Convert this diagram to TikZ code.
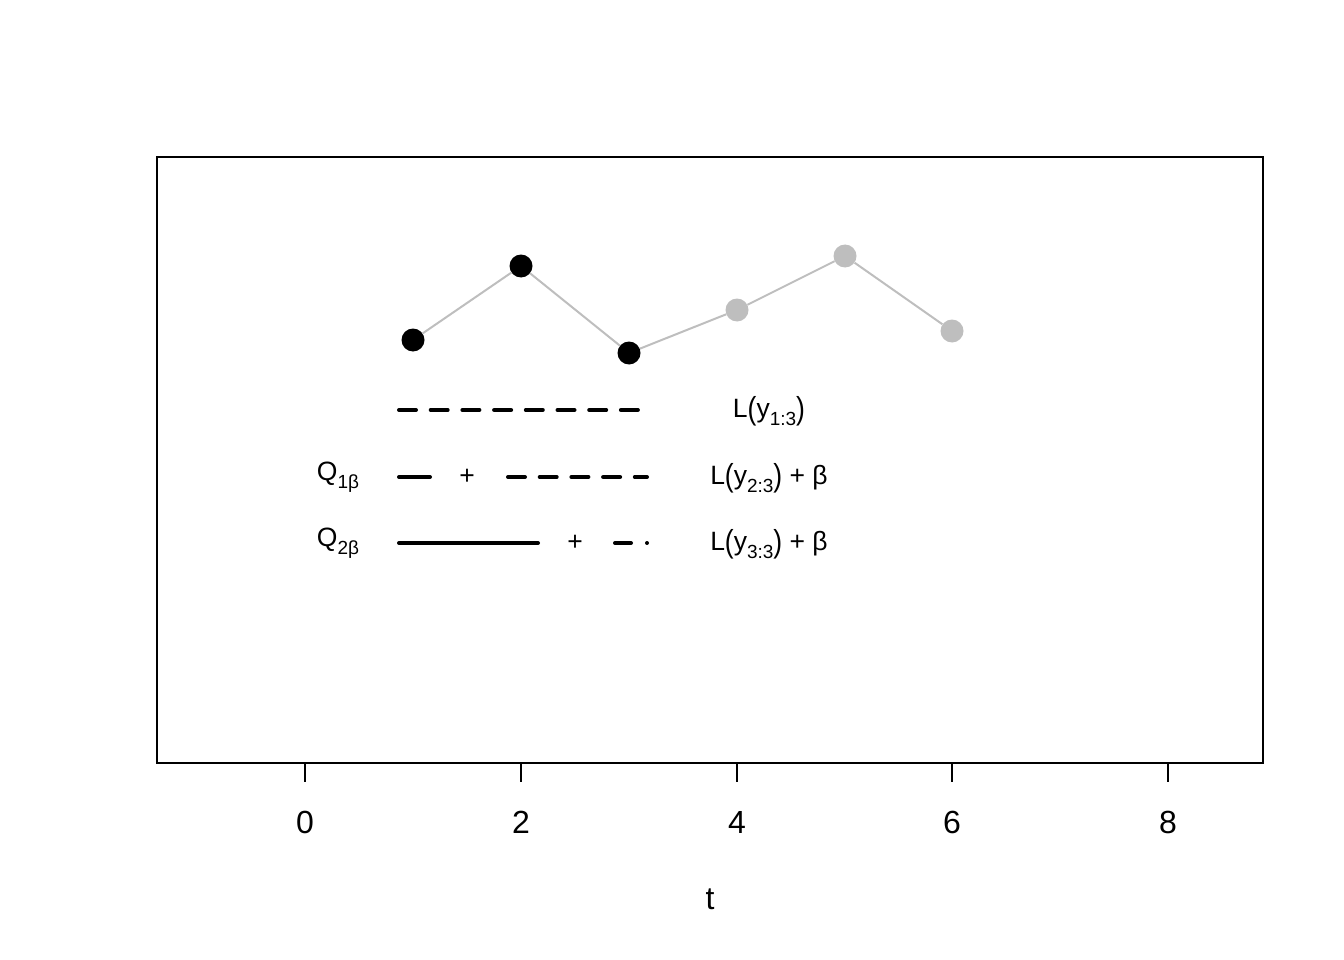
\documentclass[tikz,border=0pt]{standalone}
\usepackage{fontspec}
\setmainfont{Liberation Sans}
\definecolor{ptgray}{RGB}{190,190,190}
\newcommand{\lsub}[1]{\raisebox{-0.32em}{\fontsize{19}{22}\selectfont #1}}
\newcommand{\lpo}{\raisebox{-0.08em}{\scalebox{1}[1.2]{(}}}
\newcommand{\lpc}{\raisebox{-0.08em}{\scalebox{1}[1.2]{)}}}
\begin{document}
\begin{tikzpicture}[x=1pt,y=-1pt,
  bpt/.style={circle,fill=black,inner sep=0pt,minimum size=23pt},
  gpt/.style={bpt,fill=ptgray},
  conn/.style={ptgray,line width=2pt},
  leg/.style={line width=4pt,line cap=round},
  legdash/.style={leg,dash pattern=on 17pt off 14.7pt},
  lbl/.style={font=\fontsize{26.5}{30}\selectfont,inner sep=0pt},
  ticklbl/.style={font=\fontsize{32}{38}\selectfont,inner sep=0pt},
  axis/.style={line width=1.5pt}]
\useasboundingbox (0,0) rectangle (1344,960);
\draw[axis] (157,157) rectangle (1263,763);
\foreach \i/\x in {0/305,2/521,4/737,6/952,8/1168}{
  \draw[axis] (\x,763) -- (\x,782);
  \node[ticklbl] (tk\i) at (\x,822) {\i};
}
\node[ticklbl] (xlab) at (710,899) {t};
% points
\node[bpt] (p1) at (413,340) {};
\node[bpt] (p2) at (521,266) {};
\node[bpt] (p3) at (629,353) {};
\node[gpt] (p4) at (737,310) {};
\node[gpt] (p5) at (845,256) {};
\node[gpt] (p6) at (952,331) {};
\draw[conn] (p1) -- (p2) -- (p3) -- (p4) -- (p5) -- (p6);
% legend row 1
\coordinate (a1) at (399,410); \coordinate (b1) at (639,410);
\draw[legdash] (a1) -- (b1);
\node[lbl] (l1) at (769,411) {L\lpo y\lsub{1:3}\lpc};
% legend row 2
\node[lbl] (q1) at (338,477) {Q\lsub{1β}};
\coordinate (a2) at (399,477); \coordinate (b2) at (430,477);
\draw[leg] (a2) -- (b2);
\node[lbl] (plus2) at (467,477) {+};
\coordinate (c2) at (508,477); \coordinate (d2) at (647,477);
\draw[legdash] (c2) -- (d2);
\node[lbl] (l2) at (769,478) {L\lpo y\lsub{2:3}\lpc{} + β};
% legend row 3
\node[lbl] (q2) at (338,543) {Q\lsub{2β}};
\coordinate (a3) at (399,543); \coordinate (b3) at (538,543);
\draw[leg] (a3) -- (b3);
\node[lbl] (plus3) at (575,543) {+};
\coordinate (c3) at (615,543); \coordinate (d3) at (647.01,543);
\draw[leg,dash pattern=on 16pt off 16pt on 0.01pt off 10pt] (c3) -- (d3);
\node[lbl] (l3) at (769,544) {L\lpo y\lsub{3:3}\lpc{} + β};
\end{tikzpicture}
\end{document}
